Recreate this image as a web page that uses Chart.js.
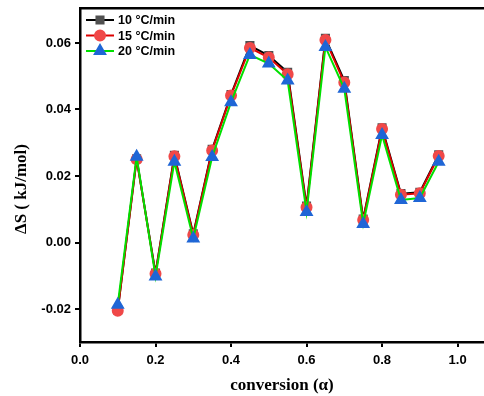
<!DOCTYPE html>
<html lang="en">
<head>
    <meta charset="UTF-8">
    <title>Delta S vs conversion</title>
    <script src="https://cdn.jsdelivr.net/npm/chart.js"></script>
    <style>
        body { margin: 0; background: #fff; }
        #box { width: 484px; height: 396px; }
    </style>
</head>
<body>
    <div id="box"><canvas id="grafico"></canvas></div>
<script>
    // conversion values (x)
    const conversao = [0.10, 0.15, 0.20, 0.25, 0.30, 0.35, 0.40, 0.45, 0.50,
                       0.55, 0.60, 0.65, 0.70, 0.75, 0.80, 0.85, 0.90, 0.95];

    // delta S (kJ/mol) for each heating rate
    const taxa10 = [-0.0203, 0.0252, -0.0092, 0.0262, 0.0026, 0.0280, 0.0445, 0.0592, 0.0562,
                    0.0512, 0.0110, 0.0614, 0.0487, 0.0071, 0.0345, 0.0147, 0.0151, 0.0264];
    const taxa15 = [-0.0205, 0.0250, -0.0094, 0.0259, 0.0023, 0.0277, 0.0442, 0.0585, 0.0556,
                    0.0506, 0.0106, 0.0609, 0.0481, 0.0068, 0.0341, 0.0144, 0.0148, 0.0260];
    const taxa20 = [-0.0187, 0.0258, -0.0102, 0.0243, 0.0012, 0.0257, 0.0422, 0.0564, 0.0538,
                    0.0487, 0.0092, 0.0588, 0.0462, 0.0056, 0.0323, 0.0128, 0.0134, 0.0243];

    const legendas = ['10 °C/min', '15 °C/min', '20 °C/min'];
    const ticksX = [0.0, 0.2, 0.4, 0.6, 0.8, 1.0];
    const ticksY = [-0.02, 0.00, 0.02, 0.04, 0.06];
    const tituloY = 'ΔS ( kJ/mol)';

    function pares(valores) {
        return conversao.map(function (c, i) { return { x: c, y: valores[i] }; });
    }

    // legend inside the plot (top left) + y title
    const extras = {
        id: 'extras',
        afterDraw(chart) {
            const ctx = chart.ctx;
            const x0 = chart.chartArea.left + 6;
            const y0 = chart.chartArea.top + 12;
            const lista = chart.data.datasets.slice().sort((a, b) => a.legendIndex - b.legendIndex);
            lista.forEach(function (ds, i) {
                const y = y0 + i * 15.5;
                ctx.save();
                ctx.strokeStyle = ds.borderColor;
                ctx.lineWidth = 2;
                ctx.beginPath();
                ctx.moveTo(x0, y);
                ctx.lineTo(x0 + 28, y);
                ctx.stroke();
                ctx.fillStyle = ds.pointBackgroundColor;
                ctx.strokeStyle = ds.pointBorderColor;
                Chart.helpers.drawPoint(ctx, {
                    pointStyle: ds.pointStyle,
                    radius: ds.pointRadius,
                    borderWidth: 1
                }, x0 + 14, y);
                ctx.fillStyle = '#000';
                ctx.font = 'bold 12.5px "Liberation Sans", Arial, sans-serif';
                ctx.textBaseline = 'middle';
                ctx.fillText(ds.label, x0 + 32, y + 1);
                ctx.restore();
            });

            // y axis title
            ctx.save();
            ctx.translate(22, 189);
            ctx.rotate(-Math.PI / 2);
            ctx.fillStyle = '#000';
            ctx.font = 'bold 17px "Liberation Serif", "Times New Roman", serif';
            ctx.textAlign = 'center';
            ctx.textBaseline = 'middle';
            ctx.fillText(tituloY, 0, 0);
            ctx.restore();
        }
    };

    const dados = {
        datasets: [
            {
                label: legendas[2],
                legendIndex: 2,
                data: pares(taxa20),
                borderColor: '#00e000',
                pointBackgroundColor: '#1f66d6',
                pointBorderColor: '#1f66d6',
                pointStyle: 'triangle',
                pointRadius: 6,
                borderWidth: 2,
                order: 1
            },
            {
                label: legendas[1],
                legendIndex: 1,
                data: pares(taxa15),
                borderColor: '#dd0000',
                pointBackgroundColor: '#f04848',
                pointBorderColor: '#f04848',
                pointStyle: 'circle',
                pointRadius: 5,
                borderWidth: 2,
                order: 2
            },
            {
                label: legendas[0],
                legendIndex: 0,
                data: pares(taxa10),
                borderColor: '#000000',
                pointBackgroundColor: '#505050',
                pointBorderColor: '#505050',
                pointStyle: 'rect',
                pointRadius: 5,
                borderWidth: 2,
                order: 3
            }
        ]
    };

    const fonteTick = { family: '"Liberation Sans", Arial, sans-serif', size: 13, weight: 'bold' };
    const fonteTitulo = { family: '"Liberation Serif", "Times New Roman", serif', size: 17, weight: 'bold' };

    const options = {
        responsive: false,
        animation: false,
        layout: { autoPadding: false, padding: { top: 8, right: 0, left: 0, bottom: 0 } },
        plugins: {
            legend: { display: false },
            tooltip: { enabled: false }
        },
        scales: {
            x: {
                type: 'linear',
                position: 'bottom',
                min: 0,
                max: 1.07,
                afterBuildTicks: function (scale) {
                    scale.ticks = ticksX.map(v => ({ value: v }));
                },
                afterFit: function (scale) {
                    scale.height = 54;
                    scale.paddingRight = 0;
                },
                ticks: {
                    color: '#000',
                    font: fonteTick,
                    padding: 6,
                    maxRotation: 0,
                    callback: v => v.toFixed(1)
                },
                grid: {
                    display: true,
                    drawOnChartArea: false,
                    drawTicks: true,
                    tickLength: 5,
                    color: '#000',
                    lineWidth: 2
                },
                border: { display: true, color: '#000', width: 2.5 },
                title: {
                    display: true,
                    text: 'conversion (α)',
                    color: '#000',
                    font: fonteTitulo,
                    padding: { top: 2, bottom: 0 }
                }
            },
            xTopo: {
                type: 'linear',
                position: 'top',
                min: 0,
                max: 1.07,
                ticks: { display: false },
                grid: { display: false, drawTicks: false },
                border: { display: true, color: '#000', width: 2.5 },
                afterFit: function (scale) {
                    scale.height = 0;
                    scale.paddingRight = 0;
                }
            },
            y: {
                min: -0.0299,
                max: 0.0705,
                afterBuildTicks: function (scale) {
                    scale.ticks = ticksY.map(v => ({ value: v }));
                },
                afterFit: function (scale) {
                    scale.width = 80;
                    scale.paddingTop = 0;
                    scale.paddingBottom = 0;
                },
                ticks: {
                    color: '#000',
                    font: fonteTick,
                    padding: 4,
                    callback: v => v.toFixed(2)
                },
                grid: {
                    display: true,
                    drawOnChartArea: false,
                    drawTicks: true,
                    tickLength: 5,
                    color: '#000',
                    lineWidth: 2
                },
                border: { display: true, color: '#000', width: 2.5 },
                title: { display: false }
            }
        }
    };

    const config = {
        type: 'line',
        data: dados,
        options: options,
        plugins: [extras]
    };

    const canvas = document.getElementById('grafico');
    canvas.width = 484;
    canvas.height = 396;
    let myChart = new Chart(canvas, config);
</script>
</body>
</html>
